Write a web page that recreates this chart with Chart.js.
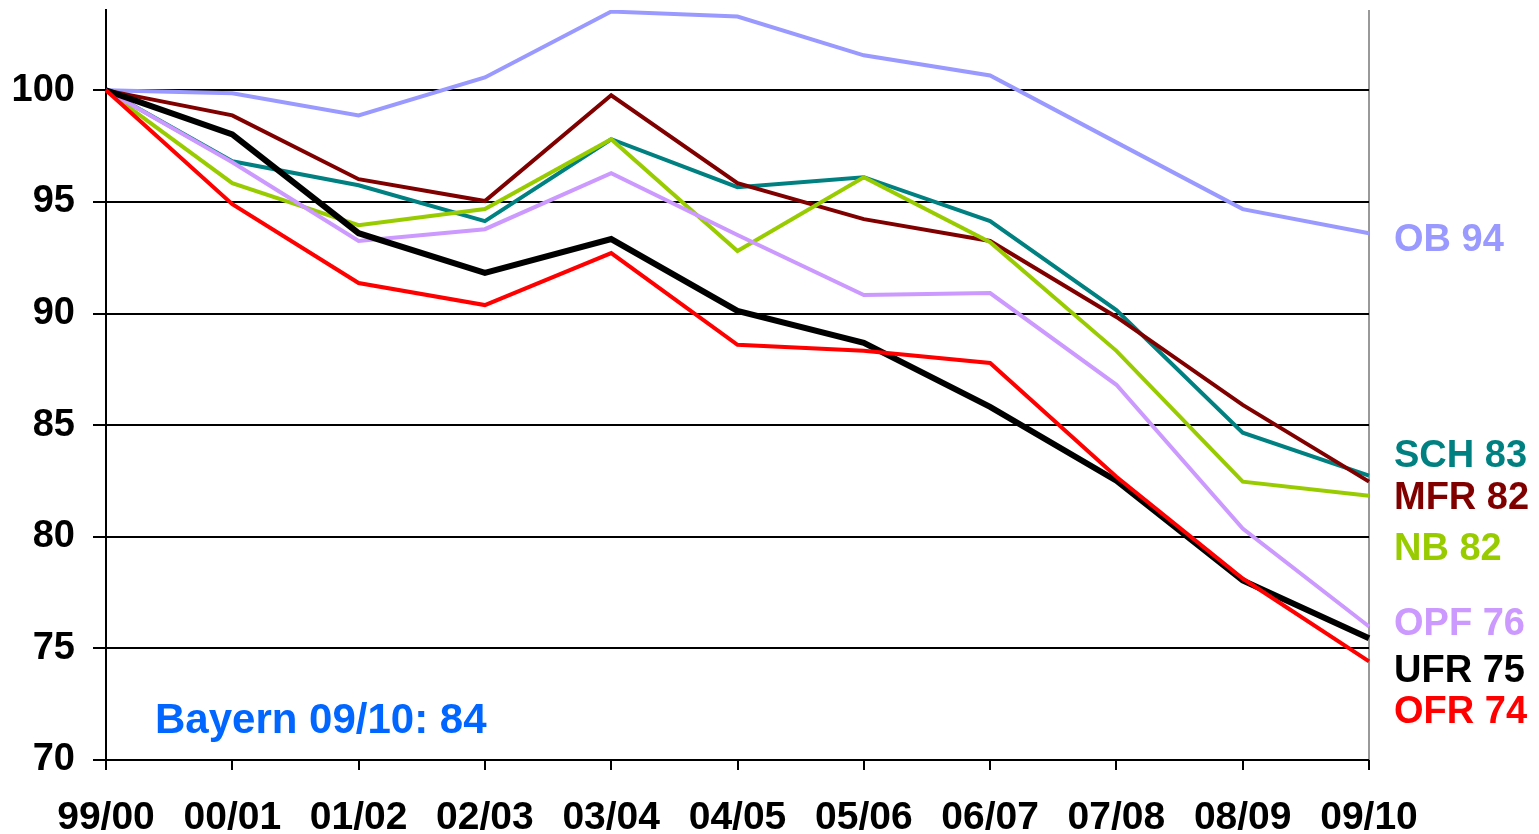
<!DOCTYPE html>
<html>
<head>
<meta charset="utf-8">
<script src="https://cdn.jsdelivr.net/npm/chart.js@4"></script>
<style>
  html, body { margin: 0; padding: 0; background: #fff; }
  #wrap { width: 1539px; height: 834px; }
</style>
</head>
<body>
<div id="wrap"><canvas id="rankChart"></canvas></div>
<script>
const years = ['99/00', '00/01', '01/02', '02/03', '03/04', '04/05', '05/06', '06/07', '07/08', '08/09', '09/10'];
const yTicks = [70, 75, 80, 85, 90, 95, 100];

const ob  = [100, 99.87, 98.88, 100.58, 103.53, 103.31, 101.57, 100.67, 97.67, 94.68, 93.6];
const sch = [100, 96.82, 95.75, 94.14, 97.81, 95.66, 96.11, 94.14, 90.16, 84.66, 82.74];
const mfr = [100, 98.88, 96.02, 95.04, 99.78, 95.84, 94.23, 93.25, 89.85, 85.91, 82.47];
const nb  = [100, 95.84, 93.96, 94.68, 97.81, 92.8, 96.11, 93.2, 88.33, 82.47, 81.84];
const opf = [100, 96.78, 93.25, 93.78, 96.29, 93.52, 90.83, 90.92, 86.81, 80.37, 75.98];
const ufr = [100, 98.03, 93.6, 91.82, 93.34, 90.12, 88.69, 85.82, 82.51, 78.04, 75.45];
const ofr = [100, 94.9, 91.37, 90.38, 92.71, 88.6, 88.33, 87.79, 82.69, 78.13, 74.42];

const bayernText = 'Bayern 09/10: 84';

// draw order: first entry ends up on top
const series = [
  { name: 'OFR', data: ofr, color: '#FF0000', width: 4, shift: 51 },
  { name: 'UFR', data: ufr, color: '#000000', width: 6, shift: 33 },
  { name: 'OPF', data: opf, color: '#CC99FF', width: 4, shift: -2 },
  { name: 'NB',  data: nb,  color: '#99CC00', width: 4, shift: 54 },
  { name: 'MFR', data: mfr, color: '#800000', width: 4, shift: 17 },
  { name: 'SCH', data: sch, color: '#008080', width: 4, shift: -19 },
  { name: 'OB',  data: ob,  color: '#9999FF', width: 4, shift: 7 }
];

const FONT = '"Liberation Sans", Arial, sans-serif';

const endLabels = {
  id: 'endLabels',
  afterDatasetsDraw(chart) {
    const ctx = chart.ctx;
    const area = chart.chartArea;
    ctx.save();
    ctx.font = 'bold 38px ' + FONT;
    ctx.textBaseline = 'middle';
    ctx.textAlign = 'left';
    series.forEach((s, i) => {
      const meta = chart.getDatasetMeta(i);
      const pt = meta.data[meta.data.length - 1];
      const last = s.data[s.data.length - 1];
      ctx.fillStyle = s.color;
      ctx.fillText(s.name + ' ' + Math.round(last), area.right + 25, pt.y + s.shift);
    });
    ctx.font = 'bold 42px ' + FONT;
    ctx.fillStyle = '#0066FF';
    ctx.fillText(bayernText, area.left + 49, area.bottom - 39);
    ctx.restore();
  }
};

new Chart(document.getElementById('rankChart').getContext('2d'), {
  type: 'line',
  data: {
    labels: years,
    datasets: series.map(s => ({
      label: s.name, data: s.data, borderColor: s.color, backgroundColor: s.color,
      borderWidth: s.width, pointRadius: 0, tension: 0, fill: false
    }))
  },
  options: {
    responsive: true, maintainAspectRatio: false, animation: false,
    layout: { padding: { left: 0, right: 170, top: 10, bottom: 0 } },
    plugins: { legend: { display: false }, tooltip: { enabled: false } },
    scales: {
      x: {
        offset: false,
        grid: {
          color: ctx => ctx.index === years.length - 1 ? '#999999' : 'rgba(0,0,0,0)',
          lineWidth: 2, tickColor: '#000', tickLength: 10, drawOnChartArea: true
        },
        border: { display: false },
        ticks: { color: '#000', font: { family: FONT, size: 39, weight: 'bold' }, padding: 25, maxRotation: 0, autoSkip: false },
        afterFit: scale => { scale.height = 74; scale.paddingLeft = 0; scale.paddingRight = 0; }
      },
      y: {
        min: 70, max: 103.6,
        afterBuildTicks: scale => { scale.ticks = yTicks.map(v => ({ value: v })); },
        grid: { color: '#000', lineWidth: 2, tickLength: 13 },
        border: { color: '#000', width: 2 },
        ticks: { color: '#000', font: { family: FONT, size: 38, weight: 'bold' }, padding: 18 },
        afterFit: scale => { scale.width = 106; scale.paddingTop = 0; scale.paddingBottom = 0; }
      }
    }
  },
  plugins: [endLabels]
});
</script>
</body>
</html>
